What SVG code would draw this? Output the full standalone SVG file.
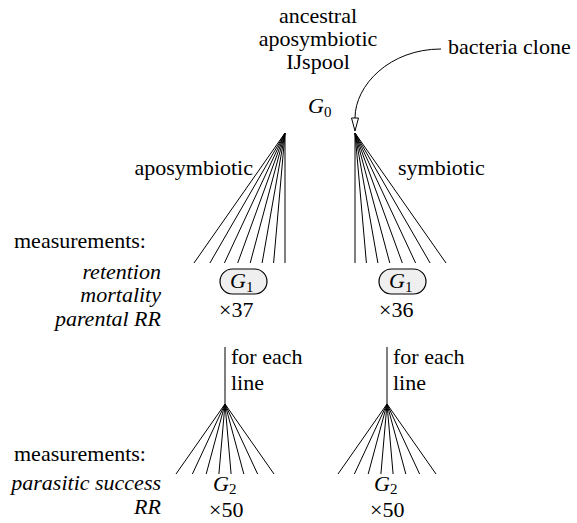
<svg xmlns="http://www.w3.org/2000/svg" width="577" height="523" viewBox="0 0 577 523">
<style>
text{font-family:"Liberation Serif",Tinos,"Times New Roman",Times,"DejaVu Serif",serif;font-size:22px;fill:#000}
.it{font-style:italic}
.sub{font-size:15px;font-style:normal}
.mid{text-anchor:middle}
.end{text-anchor:end}
.ln{stroke:#000;stroke-width:1;fill:none}
.box{fill:#efefef;stroke:#000;stroke-width:1.2}
</style>
<defs>
<marker id="open" markerUnits="userSpaceOnUse" markerWidth="16" markerHeight="10" refX="0" refY="4" orient="auto" viewBox="-1 0 16 8">
<path d="M0,0.5 L13,4 L0,7.5 Z" fill="#fff" stroke="#000" stroke-width="1"/>
</marker>
</defs>
<rect width="577" height="523" fill="#fff"/>
<g id="connectors" class="ln">
<path d="M285,133 L285,263 M285,133 L273.6,263 M285,133 L262.1,263 M285,133 L250.2,263 M285,133 L237.7,263 M285,133 L224.4,263 M285,133 L209.9,263 M285,133 L194,263"/>
<path d="M355,133 L355,263 M355,133 L366.4,263 M355,133 L377.9,263 M355,133 L389.8,263 M355,133 L402.3,263 M355,133 L415.6,263 M355,133 L430.1,263 M355,133 L446,263"/>
<path d="M225,347 L225,404"/>
<path d="M387,347 L387,404"/>
<path d="M225,404 L176,474 M225,404 L192.4,474 M225,404 L206.2,474 M225,404 L218.9,474 M225,404 L231.1,474 M225,404 L243.8,474 M225,404 L257.6,474 M225,404 L274,474"/>
<path d="M387,404 L338,474 M387,404 L354.4,474 M387,404 L368.2,474 M387,404 L380.9,474 M387,404 L393.1,474 M387,404 L405.8,474 M387,404 L419.6,474 M387,404 L436,474"/>
<path d="M441,49 C390,49 355,85 355,118" marker-end="url(#open)"/>
</g>
<g id="G0">
<text class="mid" x="318" y="23">ancestral</text>
<text class="mid" x="318" y="46">aposymbiotic</text>
<text class="mid" x="318" y="69">IJspool</text>
<text x="308" y="113"><tspan class="it">G</tspan><tspan class="sub" dy="4">0</tspan></text>
</g>
<g id="bacteria">
<text x="448" y="54">bacteria clone</text>
</g>
<g id="labels">
<text class="end" x="253" y="175">aposymbiotic</text>
<text x="398" y="175">symbiotic</text>
</g>
<g id="meas1">
<text x="14" y="248">measurements:</text>
<text class="it end" x="161" y="279">retention</text>
<text class="it end" x="161" y="302">mortality</text>
<text class="it end" x="161" y="326">parental RR</text>
</g>
<g id="G1-apo">
<rect class="box" x="220" y="269" width="47" height="25" rx="12.5"/>
<text x="230" y="288"><tspan class="it">G</tspan><tspan class="sub" dy="4">1</tspan></text>
<text x="219" y="317">×37</text>
</g>
<g id="G1-sym">
<rect class="box" x="379" y="269" width="47" height="25" rx="12.5"/>
<text x="389" y="288"><tspan class="it">G</tspan><tspan class="sub" dy="4">1</tspan></text>
<text x="379" y="317">×36</text>
</g>
<g id="foreach-apo">
<text x="231" y="364">for each</text>
<text x="231" y="390">line</text>
</g>
<g id="foreach-sym">
<text x="393" y="364">for each</text>
<text x="393" y="390">line</text>
</g>
<g id="meas2">
<text x="14" y="461">measurements:</text>
<text class="it end" x="161" y="490">parasitic success</text>
<text class="it end" x="161" y="514">RR</text>
</g>
<g id="G2-apo">
<text x="213" y="491"><tspan class="it">G</tspan><tspan class="sub" dy="3">2</tspan></text>
<text x="209" y="517">×50</text>
</g>
<g id="G2-sym">
<text x="374" y="491"><tspan class="it">G</tspan><tspan class="sub" dy="3">2</tspan></text>
<text x="370" y="517">×50</text>
</g>
</svg>
